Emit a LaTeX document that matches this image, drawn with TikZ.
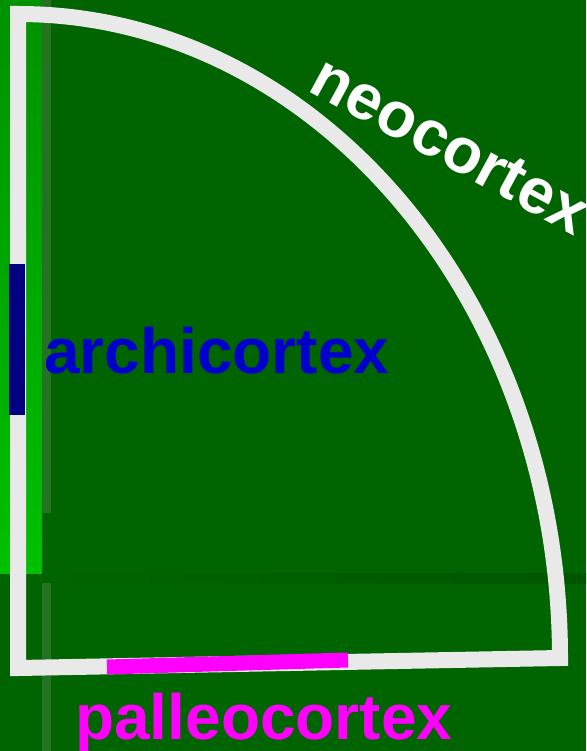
\documentclass[tikz,border=0pt]{standalone}
\usepackage{fontspec}
\setmainfont{Liberation Sans}
\usepackage[dvipsnames]{xcolor}
\usepackage{tikz}
\usetikzlibrary{calc}

\definecolor{bgGreen}{RGB}{0,100,0}
\definecolor{topGreen}{RGB}{0,145,0}
\definecolor{lowGreen}{RGB}{0,192,0}
\definecolor{stripGreen}{RGB}{35,115,35}
\definecolor{bandGreen}{RGB}{0,86,0}
\definecolor{rimGrey}{RGB}{233,233,233}
\definecolor{archiBlue}{RGB}{0,0,205}
\definecolor{barBlue}{RGB}{0,0,128}
\definecolor{paleoPink}{RGB}{255,0,255}

\tikzset{cortexname/.style={inner sep=0pt, anchor=base west, font=\fontsize{64}{64}\selectfont\bfseries}}

\begin{document}
\begin{tikzpicture}[x=1pt,y=-1pt,line join=miter]
\useasboundingbox (0,0) rectangle (586,751);
\fill[bgGreen] (0,0) rectangle (586,751);
\shade[top color=topGreen,bottom color=lowGreen] (0,0) rectangle (42,573);
\fill[stripGreen] (42,0) rectangle (51,513);
\fill[stripGreen] (42,583) rectangle (51,751);
\shade[left color=bgGreen,right color=bandGreen] (51,573) rectangle (586,583);
\coordinate (A1) at (18,14);
\coordinate (A2) at (18,668);
\coordinate (A3) at (560,658);
\coordinate (B1) at (17,264);
\coordinate (B2) at (17,415);
\coordinate (C1) at (107,667);
\coordinate (C2) at (348,660);
\draw[draw=rimGrey,line width=16pt] (A1)--(A2)--(A3) arc[start angle=0,end angle=90,x radius=542pt,y radius=644pt] -- cycle;
\draw[draw=barBlue,line width=16pt] (B1)--(B2);
\draw[draw=paleoPink,line width=15pt] (C1)--(C2);
\node[cortexname,text=white,rotate=-28.5] (neo) at (306,90) {neocortex};
\node[cortexname,text=archiBlue] (archi) at (44,373) {archicortex};
\node[cortexname,text=paleoPink] (paleo) at (75,739) {palleocortex};
\end{tikzpicture}
\end{document}
